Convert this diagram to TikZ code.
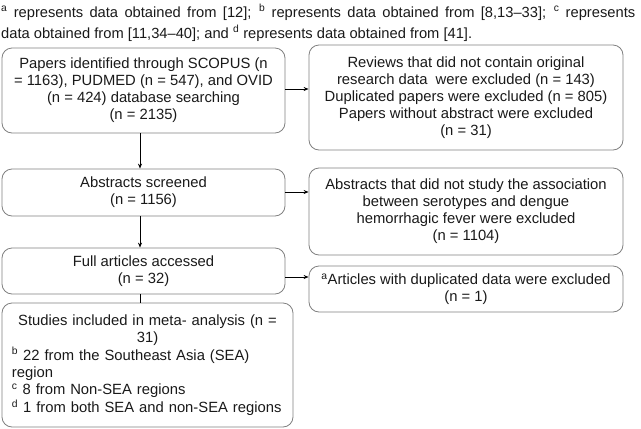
\documentclass[tikz,border=0pt]{standalone}
\usepackage{fontspec}
\setmainfont{Liberation Sans}
\usetikzlibrary{arrows.meta,calc}
\setlength{\parindent}{0pt}
\begin{document}
\begin{tikzpicture}[x=1pt,y=-1pt,
  box/.style={draw=black!50, line width=0.8pt, rounded corners=10pt, inner sep=0pt,
    align=center, text=black!90, font=\fontsize{14.8}{17}\selectfont},
  arr/.style={draw=black, line width=0.8pt, -{Stealth[length=5pt,width=4pt]}},
  plain/.style={draw=black, line width=0.8pt}]
\useasboundingbox (0,0) rectangle (641,429);
\node[anchor=base west, text width=634pt, align=justify, inner sep=0pt, text=black!90,
  font=\fontsize{14.7}{21}\selectfont] (cap) at (1,17)
  {\textsuperscript{a} represents data obtained from [12]; \textsuperscript{b} represents data obtained from [8,13–33]; \textsuperscript{c} represents\linebreak data obtained from [11,34–40]; and \textsuperscript{d} represents data obtained from [41].};
\node[box, minimum width=283pt, minimum height=85pt] (b1) at (143.5,90.5)
  {Papers identified through SCOPUS (n\\ = 1163), PUDMED (n = 547), and OVID\\ (n = 424) database searching\\ (n = 2135)};
\node[box, minimum width=314pt, minimum height=105pt] (r1) at (466,97.5)
  {Reviews that did not contain original\\ research data\ \ were excluded (n = 143)\\ Duplicated papers were excluded (n = 805)\\ Papers without abstract were excluded\\ (n = 31)};
\node[box, minimum width=283pt, minimum height=47pt] (b2) at (143.5,192.5)
  {Abstracts screened\\ (n = 1156)};
\node[box, minimum width=314pt, minimum height=87pt] (r2) at (466,211.5)
  {Abstracts that did not study the association\\ between serotypes and dengue\\ hemorrhagic fever were excluded\\ (n = 1104)};
\node[box, minimum width=283pt, minimum height=46pt] (b3) at (143.5,271)
  {Full articles accessed\\ (n = 32)};
\node[box, minimum width=314pt, minimum height=46pt] (r3) at (466,289)
  {\textsuperscript{a}Articles with duplicated data were excluded\\ (n = 1)};
\node[box, align=left, minimum width=291pt, minimum height=124pt, text width=271pt,
  font=\fontsize{14.8}{17.4}\selectfont] (b4) at (147.5,365)
  {\parindent=0pt\relax
   {\centering Studies included in meta- analysis (n =\par 31)\par}
   {\raggedright \textsuperscript{b} 22 from the Southeast Asia (SEA)\par region\par
   \textsuperscript{c} 8 from Non-SEA regions\par
   \textsuperscript{d} 1 from both SEA and non-SEA regions\par}};
\draw[arr] ([yshift=1.5pt]b1.east) -- ([yshift=1.5pt]b1.east -| r1.west);
\draw[arr] ([yshift=0.5pt]b2.east) -- ([yshift=0.5pt]b2.east -| r2.west);
\draw[arr] ([yshift=-6pt]b3.east) -- ([yshift=-6pt]b3.east -| r3.west);
\draw[arr] ([xshift=-3.5pt]b1.south) -- ([xshift=-3.5pt]b1.south |- b2.north);
\draw[arr] ([xshift=-3.5pt]b2.south) -- ([xshift=-3.5pt]b2.south |- b3.north);
\draw[plain] ([xshift=-3.5pt]b3.south) -- ([xshift=-3.5pt]b3.south |- b4.north);
\end{tikzpicture}
\end{document}
